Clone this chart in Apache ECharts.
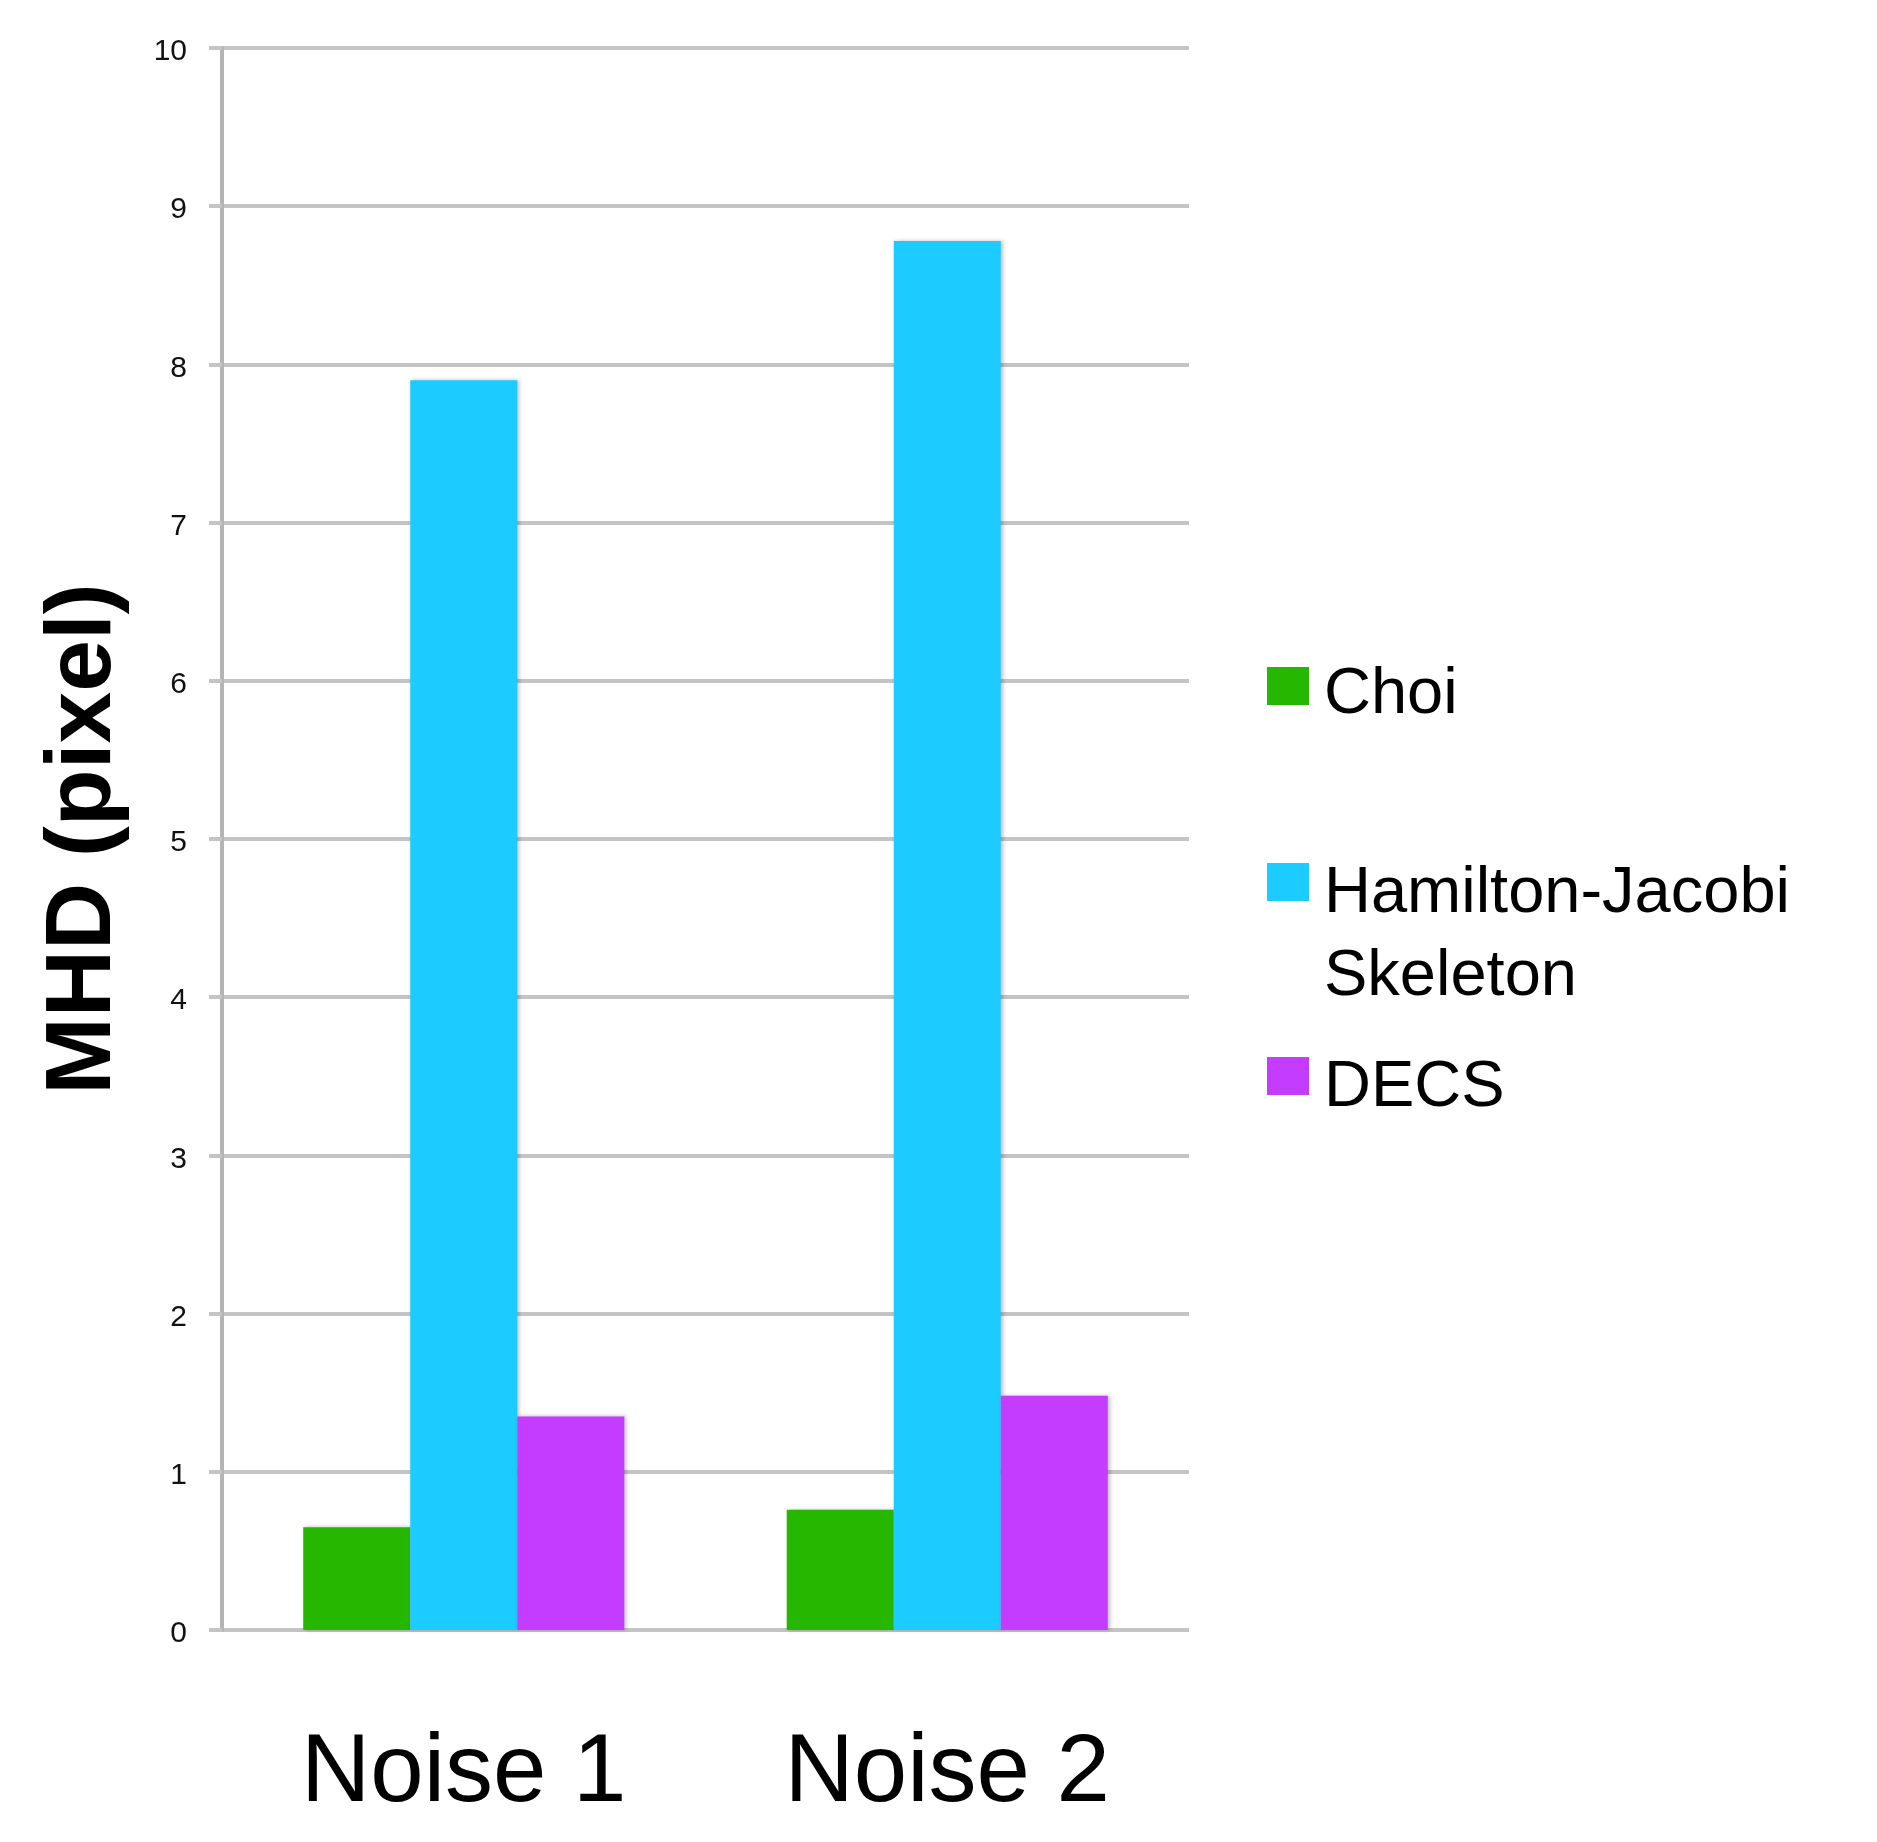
<!DOCTYPE html>
<html>
<head>
    <meta charset="utf-8">
    <title>MHD</title>
    <script src="https://cdn.jsdelivr.net/npm/echarts@6/dist/echarts.min.js"></script>
    <style>
        html, body { margin: 0; padding: 0; background: #fff; }
    </style>
</head>
<body>
<div id="main" style="width: 1877px;height:1842px;"></div>
<script type="text/javascript">

    // data
    var categories = ['Noise 1', 'Noise 2'];
    var seriesNames = ['Choi', 'Hamilton-Jacobi Skeleton', 'DECS'];
    var choiValues = [0.65, 0.76];
    var hjValues = [7.9, 8.78];
    var decsValues = [1.35, 1.48];
    var colors = ['#26b800', '#1ccbff', '#c43cff'];

    var font = 'Liberation Sans';
    var grey = '#c4c4c4';

    // square sits at the top of a taller icon box so the text lines up like the original
    function legendItem(name, top, boxH) {
        return {
            data: [name],
            orient: 'vertical',
            left: 1267,
            top: top,
            padding: 0,
            itemWidth: 42,
            itemHeight: boxH,
            selectedMode: false,
            icon: 'path://M0,0H42V38H0Z M0,' + boxH + 'L0.01,' + boxH,
            itemStyle: { borderWidth: 0, shadowBlur: 0 },
            formatter: function (n) {
                return n.replace(' ', '\n');
            },
            textStyle: {
                fontFamily: font,
                fontSize: 65,
                lineHeight: 83,
                color: '#000',
                padding: [0, 0, 0, 10]
            }
        };
    }

    function barSeries(i, values) {
        return {
            name: seriesNames[i],
            type: 'bar',
            barGap: '0%',
            barCategoryGap: '33.6%',
            itemStyle: {
                color: colors[i],
                shadowColor: 'rgba(0,0,0,0.25)',
                shadowBlur: 4,
                shadowOffsetX: 2
            },
            data: values
        };
    }

    var myChart = echarts.init(document.getElementById('main'));

    var option = {
        backgroundColor: '#fff',
        animation: false,
        legend: [
            legendItem(seriesNames[0], 653.5, 56),
            legendItem(seriesNames[1], 852.5, 145),
            legendItem(seriesNames[2], 1046.5, 62)
        ],
        grid: {
            left: 222,
            right: 688,
            top: 48,
            bottom: 212
        },
        xAxis: {
            type: 'category',
            data: categories,
            axisLine: { show: false },
            axisTick: { show: false },
            axisLabel: {
                margin: 97,
                fontFamily: font,
                fontSize: 96,
                color: '#000'
            }
        },
        yAxis: {
            type: 'value',
            min: 0,
            max: 10,
            interval: 1,
            name: 'MHD (pixel)',
            nameLocation: 'middle',
            nameRotate: 90,
            nameGap: 91,
            nameTextStyle: {
                fontFamily: font,
                fontSize: 93,
                fontWeight: 'bold',
                color: '#000'
            },
            axisLine: { show: true, lineStyle: { color: '#b4b4b4', width: 4 } },
            axisTick: { show: true, length: 13, lineStyle: { color: grey, width: 4 } },
            splitLine: { show: true, lineStyle: { color: grey, width: 4 } },
            axisLabel: {
                margin: 35,
                fontFamily: font,
                fontSize: 30,
                color: '#111',
                verticalAlign: 'top',
                lineHeight: 8
            }
        },
        series: [
            barSeries(0, choiValues),
            barSeries(1, hjValues),
            barSeries(2, decsValues)
        ]
    };

    myChart.setOption(option);

</script>
</body>
</html>
